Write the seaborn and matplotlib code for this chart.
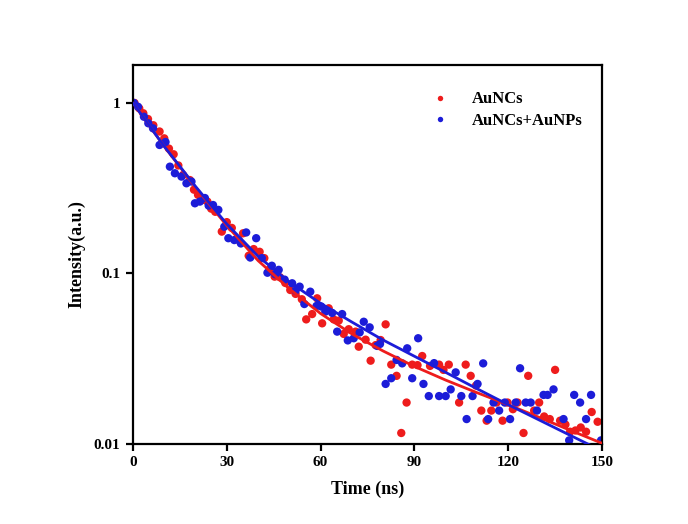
import numpy as np
import pandas as pd
import matplotlib
matplotlib.use("Agg")
import matplotlib.pyplot as plt
import seaborn as sns

# ---- data ----
red_t = [0.5, 2.0, 3.3, 4.8, 6.5, 8.5, 10.0, 11.5, 13.0, 14.5, 16.0, 18.2, 19.5, 20.8,
         22.3, 23.8, 25.0, 26.3, 28.4, 30.0, 31.6, 33.8, 35.2, 37.0, 38.6, 40.5, 42.0,
         43.7, 45.3, 47.0, 48.7, 50.3, 52.0, 54.0, 55.4, 57.3, 58.9, 60.5, 62.6, 64.2,
         65.8, 67.4, 69.0, 71.2, 72.2, 74.4, 76.0, 77.6, 79.2, 80.8, 82.6, 84.3, 85.8,
         87.5, 89.3, 91.0, 92.5, 95.0, 97.9, 99.3, 101.0, 104.3, 106.4, 108.0, 109.7,
         111.4, 113.1, 114.6, 116.3, 118.2, 119.8, 121.5, 123.0, 124.9, 126.4, 128.3,
         129.9, 131.5, 133.3, 135.0, 136.6, 138.3, 139.8, 141.5, 143.2, 144.9, 146.7, 148.6]
red_v = [1.0, 0.93, 0.87, 0.805, 0.74, 0.68, 0.62, 0.54, 0.50, 0.43, 0.378, 0.353, 0.31, 0.289,
         0.27, 0.264, 0.24, 0.23, 0.176, 0.20, 0.185, 0.157, 0.172, 0.127, 0.139, 0.134, 0.123,
         0.106, 0.0958, 0.095, 0.088, 0.080, 0.0759, 0.0706, 0.0538, 0.0578, 0.0715, 0.051, 0.0625, 0.0538,
         0.0529, 0.0442, 0.0471, 0.0456, 0.0372, 0.0409, 0.0308, 0.038, 0.0407, 0.0503, 0.0292, 0.0251, 0.0116,
         0.0175, 0.0292, 0.029, 0.0328, 0.0287, 0.0292, 0.0272, 0.0292, 0.0175, 0.0292, 0.0251, 0.022,
         0.0157, 0.0137, 0.0157, 0.0175, 0.0137, 0.0175, 0.016, 0.0175, 0.0116, 0.0251, 0.0157,
         0.0175, 0.0145, 0.014, 0.0272, 0.0137, 0.013, 0.0118, 0.012, 0.0125, 0.0118, 0.0154, 0.0135]

blue_t = [0.3, 1.6, 3.5, 4.9, 6.4, 8.5, 10.4, 11.8, 13.4, 15.5, 17.1, 18.7, 19.8, 21.4,
          23.0, 24.2, 25.6, 27.3, 29.2, 30.5, 32.4, 34.5, 36.2, 37.5, 39.4, 41.2, 43.0,
          44.4, 45.5, 46.6, 48.5, 50.9, 52.0, 53.3, 54.8, 56.7, 58.7, 60.2, 61.5, 63.7,
          65.3, 66.9, 68.7, 70.6, 72.5, 73.8, 75.7, 78.1, 79.0, 80.8, 82.6, 84.3, 86.1,
          87.7, 89.3, 91.2, 92.9, 94.6, 96.3, 97.9, 100.0, 101.6, 103.2, 105.0, 106.7,
          108.6, 110.2, 112.0, 113.6, 115.3, 117.1, 118.9, 120.6, 122.4, 123.8, 125.6,
          127.2, 129.2, 131.3, 132.6, 134.5, 137.7, 139.5, 141.1, 143.0, 144.9, 146.5, 149.7]
blue_v = [1.0, 0.95, 0.83, 0.76, 0.71, 0.567, 0.59, 0.423, 0.387, 0.37, 0.338, 0.346, 0.258, 0.264,
          0.277, 0.25, 0.252, 0.236, 0.188, 0.161, 0.157, 0.15, 0.174, 0.124, 0.161, 0.123, 0.101,
          0.111, 0.099, 0.105, 0.092, 0.0876, 0.0793, 0.0837, 0.0662, 0.0782, 0.0645, 0.064, 0.0597, 0.0587,
          0.0456, 0.0578, 0.0405, 0.0417, 0.0451, 0.0521, 0.0483, 0.0376, 0.0386, 0.0225, 0.0243, 0.0311, 0.0297,
          0.0364, 0.0243, 0.0417, 0.0225, 0.0191, 0.0298, 0.0191, 0.0191, 0.0209, 0.0263, 0.0191, 0.014,
          0.0191, 0.0225, 0.0297, 0.014, 0.0175, 0.0157, 0.0175, 0.014, 0.0175, 0.0278, 0.0175,
          0.0175, 0.0157, 0.0194, 0.0194, 0.0209, 0.014, 0.0105, 0.0194, 0.0175, 0.014, 0.0194, 0.0105]

fit_t = [0, 10, 20, 30, 40, 50, 60, 70, 80, 90, 100, 110, 120, 130, 140, 150]
red_fit = [1.0, 0.556, 0.320, 0.191, 0.119, 0.0813, 0.0582, 0.0442, 0.0351, 0.0285,
           0.0237, 0.0200, 0.0170, 0.0143, 0.0120, 0.0101]
blue_fit = [1.0, 0.556, 0.324, 0.195, 0.126, 0.0891, 0.0668, 0.0519, 0.0407, 0.0327,
            0.0263, 0.0211, 0.0170, 0.0138, 0.0112, 0.0091]

series_names = ["AuNCs", "AuNCs+AuNPs"]
x_ticks = [0, 30, 60, 90, 120, 150]
y_ticks = [1, 0.1, 0.01]
y_tick_labels = ["1", "0.1", "0.01"]

# ---- build tables ----
pts = pd.concat([
    pd.DataFrame({"t": red_t, "v": red_v, "s": series_names[0]}),
    pd.DataFrame({"t": blue_t, "v": blue_v, "s": series_names[1]}),
])
fits = pd.concat([
    pd.DataFrame({"t": fit_t, "v": red_fit, "s": series_names[0]}),
    pd.DataFrame({"t": fit_t, "v": blue_fit, "s": series_names[1]}),
])

sns.set_style("white")
plt.rcParams["font.family"] = ["Liberation Serif", "DejaVu Serif"]
plt.rcParams["font.weight"] = "bold"
plt.rcParams["text.color"] = "black"
plt.rcParams["axes.labelcolor"] = "black"
plt.rcParams["xtick.color"] = "black"
plt.rcParams["ytick.color"] = "black"

palette = {series_names[0]: "#ee1c1c", series_names[1]: "#1c1cd8"}

fig = plt.figure(figsize=(6.88, 5.24), dpi=100)
ax = fig.add_axes([0.1933, 0.1527, 0.6817, 0.7233])

sns.scatterplot(data=pts, x="t", y="v", hue="s", palette=palette, s=36,
                edgecolor="none", ax=ax, zorder=2, legend=True)
sns.lineplot(data=fits, x="t", y="v", hue="s", palette=palette, lw=2.0,
             ax=ax, zorder=3, legend=False)

ax.set_yscale("log")
ax.set_xlim(0, 150)
ax.set_ylim(0.01, 1.67)
ax.set_xticks(x_ticks)
ax.set_xticklabels([str(x) for x in x_ticks])
ax.set_yticks(y_ticks)
ax.set_yticklabels(y_tick_labels)
ax.minorticks_off()
ax.yaxis.set_minor_locator(matplotlib.ticker.NullLocator())

for sp in ax.spines.values():
    sp.set_visible(True)
    sp.set_linewidth(1.6)
    sp.set_color("black")
ax.tick_params(axis="both", which="major", direction="out", length=5, width=1.6,
               labelsize=11, colors="black", bottom=True, left=True, pad=4)
for lab in ax.get_xticklabels() + ax.get_yticklabels():
    lab.set_fontweight("bold")

ax.set_xlabel("Time (ns)", fontsize=13, fontweight="bold", labelpad=8, color="black")
ax.set_ylabel("Intensity(a.u.)", fontsize=13, fontweight="bold", labelpad=6, color="black")

handles, labels = ax.get_legend_handles_labels()
leg = ax.legend(handles, labels, loc="upper right", bbox_to_anchor=(0.99, 0.97),
                frameon=False, prop={"size": 12, "weight": "bold"},
                handletextpad=0.9, markerscale=0.65, labelspacing=0.35)
for txt in leg.get_texts():
    txt.set_color("black")

fig.savefig("out.png", dpi=100, facecolor="white")
